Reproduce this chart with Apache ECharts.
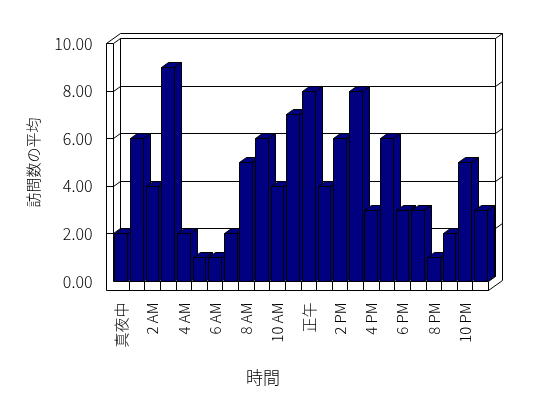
<!DOCTYPE html>
<html>
<head>
<meta charset="utf-8">
<script src="https://cdn.jsdelivr.net/npm/echarts@6/dist/echarts.min.js"></script>
<style>
  html, body { margin: 0; padding: 0; background: #fff; }
  #chart { width: 548px; height: 398px; }
</style>
</head>
<body>
<div id="chart"></div>
<script>
const hours = [
  '真夜中', '1 AM', '2 AM', '3 AM', '4 AM', '5 AM', '6 AM', '7 AM', '8 AM', '9 AM', '10 AM', '11 AM',
  '正午', '1 PM', '2 PM', '3 PM', '4 PM', '5 PM', '6 PM', '7 PM', '8 PM', '9 PM', '10 PM', '11 PM'
];
const visits = [2, 6, 4, 9, 2, 1, 1, 2, 5, 6, 4, 7, 8, 4, 6, 8, 3, 6, 3, 3, 1, 2, 5, 3];
const valueTicks = [0, 2, 4, 6, 8, 10];
const yTitle = '訪問数の平均';
const xTitle = '時間';

const FONT = '"Noto Sans CJK JP", "Noto Sans", sans-serif';
const WEIGHT = 300;
// fake 3d: depth offset of the plot box, thickness of the walls
const DX = 7, DY = -5;
const WALL = 7, FLOOR = 9;
const BAR_COLOR = '#000080';

function px(v) {
  return Math.round(v - 0.5) + 0.5;
}

function line(x1, y1, x2, y2) {
  return {
    type: 'line',
    shape: { x1: px(x1), y1: px(y1), x2: px(x2), y2: px(y2) },
    style: { stroke: '#000', lineWidth: 1 }
  };
}

function poly(points, fill) {
  return {
    type: 'polygon',
    shape: { points: points.map(p => [px(p[0]), px(p[1])]) },
    style: { fill: fill, stroke: '#000', lineWidth: 1 }
  };
}

function renderFrame(params, api) {
  const band = api.size([1, 0])[0];
  const xL = api.coord([0, 0])[0] - band / 2;
  const xR = api.coord([hours.length - 1, 0])[0] + band / 2;
  const yB = api.coord([0, 0])[1];
  const yT = api.coord([0, valueTicks[valueTicks.length - 1]])[1];
  const kids = [];

  // outline of the whole box
  kids.push(poly([
    [xL - WALL, yT],
    [xL - WALL + 2 * DX, yT + 2 * DY],
    [xR + 2 * DX, yT + 2 * DY],
    [xR + 2 * DX, yB + FLOOR + 2 * DY],
    [xR, yB + FLOOR],
    [xL - WALL, yB + FLOOR]
  ], '#fff'));
  // back wall
  kids.push(poly([
    [xL + DX, yT + DY], [xR + DX, yT + DY], [xR + DX, yB + DY], [xL + DX, yB + DY]
  ], '#fff'));
  // left wall and top edges
  kids.push(line(xL, yT, xL, yB));
  kids.push(line(xL - WALL, yT, xL, yT));
  kids.push(line(xL, yT, xL + DX, yT + DY));
  kids.push(line(xR + DX, yT + DY, xR + 2 * DX, yT + 2 * DY));
  // floor
  kids.push(line(xL, yB, xR, yB));
  kids.push(line(xR, yB, xR + DX, yB + DY));
  kids.push(line(xR, yB, xR, yB + FLOOR));
  for (let k = 1; k < hours.length; k++) {
    const x = xL + k * band;
    kids.push(line(x, yB, x, yB + FLOOR));
  }
  // gridlines on the walls
  valueTicks.forEach(v => {
    if (v === valueTicks[valueTicks.length - 1]) return;
    const y = api.coord([0, v])[1];
    if (v !== 0) {
      kids.push(line(xL - WALL, y, xL, y));
      kids.push(line(xL, y, xL + DX, y + DY));
      kids.push(line(xR + DX, y + DY, xR + 2 * DX, y + 2 * DY));
    }
    kids.push(line(xL + DX, y + DY, xR + DX, y + DY));
  });

  return { type: 'group', children: kids };
}

function renderBar(params, api) {
  const top = api.coord([api.value(0), api.value(1)]);
  const base = api.coord([api.value(0), 0]);
  const band = api.size([1, 0])[0];
  const w = band * 0.81;
  const x1 = top[0] - w / 2, x2 = top[0] + w / 2;
  const y1 = top[1], y2 = base[1];
  return {
    type: 'group',
    children: [
      poly([[x2, y1], [x2 + DX, y1 + DY], [x2 + DX, y2 + DY], [x2, y2]], BAR_COLOR),
      poly([[x1, y1], [x1 + DX, y1 + DY], [x2 + DX, y1 + DY], [x2, y1]], BAR_COLOR),
      poly([[x1, y1], [x2, y1], [x2, y2], [x1, y2]], BAR_COLOR)
    ]
  };
}

const chart = echarts.init(document.getElementById('chart'));

const option = {
  backgroundColor: '#fff',
  animation: false,
  textStyle: { fontFamily: FONT, color: '#000', fontWeight: WEIGHT },
  title: {
    text: xTitle,
    left: 258,
    top: 364,
    textAlign: 'center',
    textStyle: { fontFamily: FONT, fontSize: 17, fontWeight: WEIGHT, color: '#000' }
  },
  grid: {
    left: 113.5,
    right: 59.5,
    top: 43.5,
    bottom: 116.5,
    containLabel: false,
    outerBoundsMode: 'none'
  },
  xAxis: {
    type: 'category',
    data: hours,
    axisLine: { show: false },
    axisTick: { show: false },
    splitLine: { show: false },
    axisLabel: {
      interval: 1,
      rotate: 90,
      margin: 21,
      fontSize: 15,
      fontWeight: WEIGHT,
      color: '#000',
      fontFamily: FONT
    }
  },
  yAxis: {
    type: 'value',
    min: 0,
    max: 10,
    interval: 2,
    name: yTitle,
    nameLocation: 'middle',
    nameRotate: 90,
    nameGap: 73,
    nameTextStyle: { fontSize: 15, fontWeight: WEIGHT, color: '#000', fontFamily: FONT },
    axisLine: { show: false },
    axisTick: { show: false },
    splitLine: { show: false },
    axisLabel: {
      margin: 21,
      fontSize: 16,
      fontWeight: WEIGHT,
      color: '#000',
      fontFamily: FONT,
      formatter: v => v.toFixed(2)
    }
  },
  series: [
    {
      type: 'custom',
      renderItem: renderFrame,
      data: [[0, 0]],
      encode: { x: 0, y: 1 },
      silent: true,
      z: 1
    },
    {
      type: 'custom',
      renderItem: renderBar,
      data: visits.map((v, i) => [i, v]),
      encode: { x: 0, y: 1 },
      z: 2
    }
  ]
};

chart.setOption(option);
</script>
</body>
</html>
